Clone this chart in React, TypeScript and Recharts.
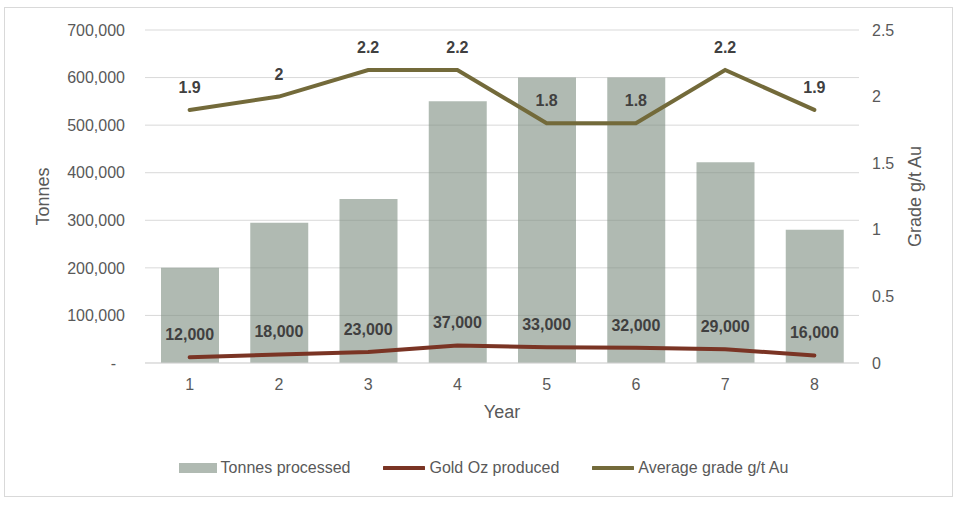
import {
  ComposedChart,
  Bar,
  Line,
  XAxis,
  YAxis,
  CartesianGrid,
  Legend,
  LabelList,
} from 'recharts';

const years = ['1', '2', '3', '4', '5', '6', '7', '8'];
const tonnesProcessed = [200000, 295000, 345000, 550000, 600000, 600000, 422000, 280000];
const goldOz = [12000, 18000, 23000, 37000, 33000, 32000, 29000, 16000];
const avgGrade = [1.9, 2, 2.2, 2.2, 1.8, 1.8, 2.2, 1.9];
const tonnesTicks = [0, 100000, 200000, 300000, 400000, 500000, 600000, 700000];
const gradeTicks = [0, 0.5, 1, 1.5, 2, 2.5];

const data = years.map((year, i) => ({
  year,
  tonnes: tonnesProcessed[i],
  gold: goldOz[i],
  grade: avgGrade[i],
}));

const FONT = '"Liberation Sans", Arial, sans-serif';
const BAR = 'rgb(123,140,127)';
const GOLD = '#7A3424';
const GRADE = '#736A3A';

const fmtTonnes = (v: number) => (v === 0 ? '-\u00A0\u00A0' : v.toLocaleString('en-US'));
const fmtGold = (v: any) => Number(v).toLocaleString('en-US');

function LegendBox() {
  const item = (swatch: any, label: string) => (
    <div style={{ display: 'flex', alignItems: 'center', gap: 4 }}>
      {swatch}
      <span>{label}</span>
    </div>
  );
  return (
    <div
      style={{
        height: 40,
        display: 'flex',
        justifyContent: 'center',
        alignItems: 'center',
        gap: 33,
        fontFamily: FONT,
        fontSize: 16,
        color: '#595959',
      }}
    >
      {item(<svg width={38} height={10}><rect width={38} height={10} fill={BAR} fillOpacity={0.6} /></svg>, 'Tonnes processed')}
      {item(<svg width={42} height={6}><line x1={1} y1={3} x2={41} y2={3} stroke={GOLD} strokeWidth={4} strokeLinecap="round" /></svg>, 'Gold Oz produced')}
      {item(<svg width={42} height={6}><line x1={1} y1={3} x2={41} y2={3} stroke={GRADE} strokeWidth={4} strokeLinecap="round" /></svg>, 'Average grade g/t Au')}
    </div>
  );
}

export default function App() {
  return (
    <div
      style={{
        position: 'absolute',
        left: 4,
        top: 7,
        width: 947,
        height: 488,
        border: '1px solid #D9D9D9',
        background: '#fff',
      }}
    >
      <ComposedChart
        width={947}
        height={488}
        data={data}
        margin={{ top: 22, right: 33, bottom: 8, left: 70 }}
        style={{ fontFamily: FONT }}
      >
        <CartesianGrid vertical={false} stroke="#D9D9D9" yAxisId="left" />
        <XAxis
          dataKey="year"
          height={85}
          tickSize={0}
          tickMargin={16}
          axisLine={{ stroke: '#D9D9D9' }}
          tick={{ fill: '#595959', fontSize: 16 }}
          label={{ value: 'Year', position: 'insideTop', offset: 42, fill: '#595959', fontSize: 18 }}
        />
        <YAxis
          yAxisId="left"
          width={70}
          domain={[0, 700000]}
          ticks={tonnesTicks}
          tickFormatter={fmtTonnes}
          tickSize={0}
          tickMargin={20}
          axisLine={false}
          tick={{ fill: '#595959', fontSize: 16 }}
          label={{ value: 'Tonnes', angle: -90, position: 'center', dx: -67, fill: '#595959', fontSize: 18 }}
        />
        <YAxis
          yAxisId="right"
          orientation="right"
          width={60}
          domain={[0, 2.5]}
          ticks={gradeTicks}
          tickSize={0}
          tickMargin={13}
          axisLine={false}
          tick={{ fill: '#595959', fontSize: 16, textAnchor: 'start' }}
          label={{ value: 'Grade g/t Au', angle: -90, position: 'center', dx: 26, fill: '#595959', fontSize: 18 }}
        />
        <Bar
          yAxisId="left"
          dataKey="tonnes"
          name="Tonnes processed"
          fill={BAR}
          fillOpacity={0.6}
          barSize={58}
          isAnimationActive={false}
        />
        <Line
          yAxisId="left"
          dataKey="gold"
          name="Gold Oz produced"
          stroke={GOLD}
          strokeWidth={4}
          dot={false}
          strokeLinecap="round"
          isAnimationActive={false}
        >
          <LabelList dataKey="gold" position="top" offset={17} formatter={fmtGold} fill="#404040" fontSize={16} fontWeight="bold" />
        </Line>
        <Line
          yAxisId="right"
          dataKey="grade"
          name="Average grade g/t Au"
          stroke={GRADE}
          strokeWidth={4}
          dot={false}
          strokeLinecap="round"
          isAnimationActive={false}
        >
          <LabelList dataKey="grade" position="top" offset={17} fill="#404040" fontSize={16} fontWeight="bold" />
        </Line>
        <Legend
          verticalAlign="bottom"
          wrapperStyle={{ left: 5, width: 947 }}
          content={() => <LegendBox />}
        />
      </ComposedChart>
    </div>
  );
}
